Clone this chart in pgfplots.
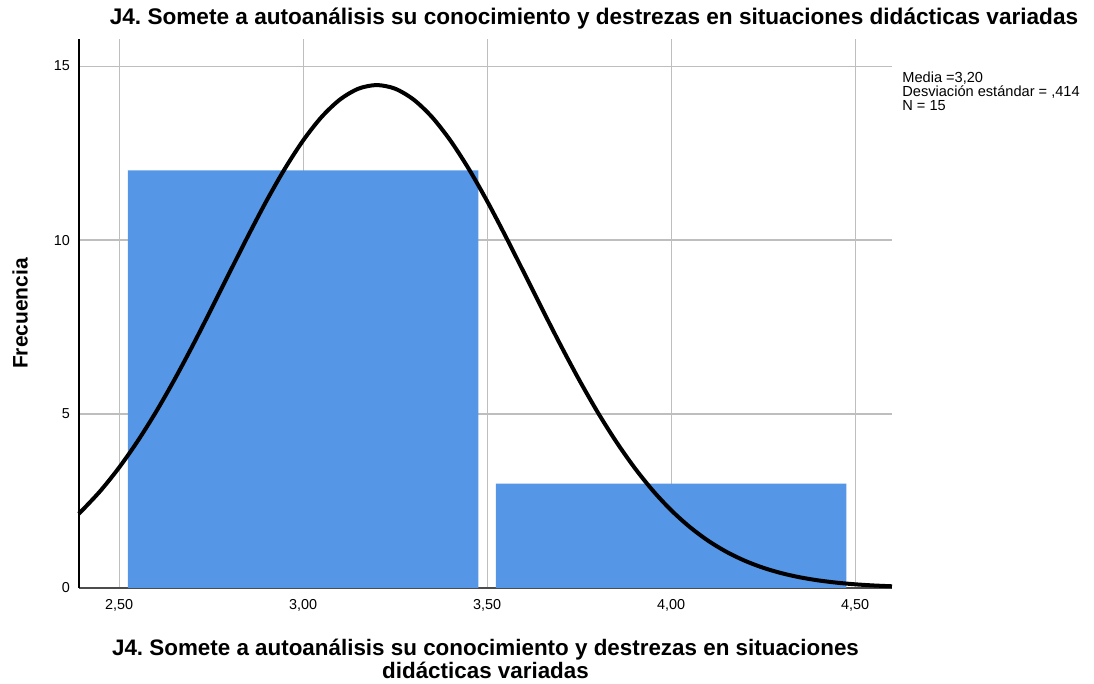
\documentclass[border=0pt]{standalone}
\usepackage{pgfplots}
\pgfplotsset{compat=1.18}
\usepackage{fontspec}
\setmainfont{Liberation Sans}
\frenchspacing
\definecolor{barblue}{RGB}{85,150,230}
\definecolor{gridgray}{RGB}{190,190,190}
\begin{document}
\begin{tikzpicture}
\begin{axis}[
    scale only axis,
    width=406.5pt,
    height=274.5pt,
    xmin=2.391, xmax=4.6,
    ymin=0, ymax=15.78,
    axis lines=left,
    axis line style={-, black, line width=0.6pt},
    x axis line style={black!70},
    xtick={2.5,3,3.5,4,4.5},
    xticklabels={{2,50},{3,00},{3,50},{4,00},{4,50}},
    ytick={0,5,10,15},
    grid=major,
    major grid style={gridgray, line width=0.6pt},
    major tick length=0pt,
    tick style={draw=none},
    /pgf/number format/assume math mode=true,
    tick label style={font=\fontsize{7.2pt}{8pt}\selectfont},
    xticklabel style={yshift=-2pt},
    yticklabel style={xshift=-1pt},
    clip=false,
]
\addplot[ybar, bar width=0.952, bar shift=0pt, fill=barblue, draw=none]
    coordinates {(3.0,12) (4.0,3)};
\addplot[black, line width=2pt, smooth] coordinates {
(2.39,2.132) (2.40,2.234) (2.45,2.801) (2.50,3.462) (2.55,4.215) (2.60,5.057)
(2.65,5.981) (2.70,6.971) (2.75,8.007) (2.80,9.064) (2.85,10.111) (2.90,11.118)
(2.95,12.046) (3.00,12.863) (3.05,13.537) (3.10,14.039) (3.15,14.350) (3.20,14.455)
(3.25,14.350) (3.30,14.039) (3.35,13.537) (3.40,12.863) (3.45,12.046) (3.50,11.118)
(3.55,10.111) (3.60,9.064) (3.65,8.007) (3.70,6.971) (3.75,5.981) (3.80,5.057)
(3.85,4.215) (3.90,3.462) (3.95,2.801) (4.00,2.234) (4.05,1.757) (4.10,1.361)
(4.15,1.039) (4.20,0.782) (4.25,0.580) (4.30,0.424) (4.35,0.305) (4.40,0.2166)
(4.45,0.1515) (4.50,0.1044) (4.55,0.0709) (4.60,0.0475)
};
\node[anchor=center, font=\fontsize{11.3pt}{13pt}\selectfont\bfseries]
    at (rel axis cs:0.6335,1.038) {J4. Somete a autoanálisis su conocimiento y destrezas en situaciones didácticas variadas};
\node[anchor=north, align=center, inner sep=0pt, font=\fontsize{11.2pt}{10pt}\selectfont\bfseries]
    at (rel axis cs:0.5,-0.0915) {J4. Somete a autoanálisis su conocimiento y destrezas en situaciones\\didácticas variadas};
\node[rotate=90, anchor=center, font=\fontsize{10.5pt}{12pt}\selectfont\bfseries]
    at (rel axis cs:-0.0726,0.5) {Frecuencia};
\node[anchor=north west, align=left, inner sep=0pt, font=\fontsize{7.3pt}{7pt}\selectfont]
    at (rel axis cs:1.0123,0.940) {Media =3,20\\Desviación estándar = ,414\\N = 15};
\coordinate (bl) at (rel axis cs:-0.0972,-0.1749);
\coordinate (tr) at (rel axis cs:1.2485,1.071);
\end{axis}
\pgfresetboundingbox
\path (bl) rectangle (tr);
\end{tikzpicture}
\end{document}
